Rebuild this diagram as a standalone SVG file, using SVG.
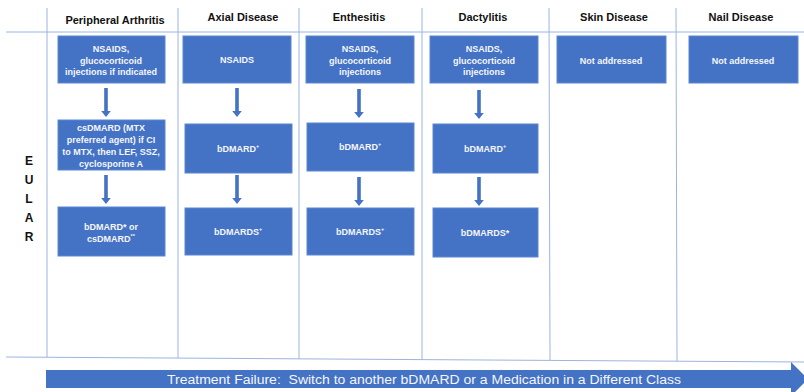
<svg xmlns="http://www.w3.org/2000/svg" width="804" height="392" viewBox="0 0 804 392">
<style>
.grid{stroke:#9bb4e0;stroke-width:1;fill:none}
.box rect{fill:#4472c4;stroke:#5b87d2;stroke-width:1}
.bt{font-family:"Liberation Sans",Arial,sans-serif;font-weight:bold;font-size:9px;fill:#f4f6fb;text-anchor:middle}
.hd{font-family:"Liberation Sans",Arial,sans-serif;font-weight:bold;font-size:11px;fill:#111111;text-anchor:middle}
.eu{font-family:"Liberation Sans",Arial,sans-serif;font-weight:bold;font-size:12px;fill:#111111;text-anchor:middle}
.sup{font-size:5.5px}
.arr{fill:#4472c4}
</style>
<defs>
<path id="dn" d="M-1.8,0 H1.8 V23 H4.8 L0,29 L-4.8,23 H-1.8 Z"/>
</defs>
<rect width="804" height="392" fill="#ffffff"/>
<g id="grid">
<line class="grid" x1="6" y1="32" x2="804" y2="32"/>
<line class="grid" x1="6" y1="357" x2="804" y2="362"/>
<line class="grid" x1="47" y1="8" x2="47" y2="357"/>
<line class="grid" x1="178" y1="8" x2="178" y2="358"/>
<line class="grid" x1="299" y1="8" x2="299" y2="359"/>
<line class="grid" x1="422" y1="8" x2="422" y2="359"/>
<line class="grid" x1="549" y1="8" x2="550" y2="360"/>
<line class="grid" x1="676" y1="8" x2="677" y2="361"/>
</g>
<g id="headers">
<text class="hd" x="115" y="24">Peripheral Arthritis</text>
<text class="hd" x="243" y="21">Axial Disease</text>
<text class="hd" x="359" y="21">Enthesitis</text>
<text class="hd" x="483" y="21">Dactylitis</text>
<text class="hd" x="614" y="21">Skin Disease</text>
<text class="hd" x="741" y="21">Nail Disease</text>
</g>
<g id="eular">
<text class="eu" x="29" y="165">E</text>
<text class="eu" x="29" y="184">U</text>
<text class="eu" x="29" y="203">L</text>
<text class="eu" x="29" y="222">A</text>
<text class="eu" x="29" y="241">R</text>
</g>
<g id="connectors">
<use href="#dn" class="arr" x="106" y="88"/>
<use href="#dn" class="arr" x="106" y="175"/>
<use href="#dn" class="arr" x="237" y="88"/>
<use href="#dn" class="arr" x="237" y="175"/>
<use href="#dn" class="arr" x="359" y="89"/>
<use href="#dn" class="arr" x="359" y="177"/>
<use href="#dn" class="arr" x="479" y="90"/>
<use href="#dn" class="arr" x="479" y="177"/>
</g>
<g id="pa1" class="box"><rect x="58" y="36" width="107" height="47"/>
<text class="bt" x="111" y="52">NSAIDS,</text><text class="bt" x="111" y="64">glucocorticoid</text><text class="bt" x="111" y="75">injections if indicated</text></g>
<g id="pa2" class="box"><rect x="58" y="120" width="107" height="50"/>
<text class="bt" x="111" y="131">csDMARD (MTX</text><text class="bt" x="111" y="143">preferred agent) if CI</text><text class="bt" x="111" y="155">to MTX, then LEF, SSZ,</text><text class="bt" x="111" y="167">cyclosporine A</text></g>
<g id="pa3" class="box"><rect x="58" y="207" width="107" height="49"/>
<text class="bt" x="111" y="230">bDMARD* or</text><text class="bt" x="111" y="242">csDMARD<tspan class="sup" dy="-4">**</tspan></text></g>
<g id="ax1" class="box"><rect x="183" y="36" width="108" height="47"/>
<text class="bt" x="237" y="63">NSAIDS</text></g>
<g id="ax2" class="box"><rect x="185" y="124" width="107" height="49"/>
<text class="bt" x="238" y="152">bDMARD<tspan class="sup" dy="-4">+</tspan></text></g>
<g id="ax3" class="box"><rect x="185" y="208" width="107" height="47"/>
<text class="bt" x="238" y="235">bDMARDS<tspan class="sup" dy="-4">+</tspan></text></g>
<g id="en1" class="box"><rect x="306" y="36" width="108" height="47"/>
<text class="bt" x="360" y="52">NSAIDS,</text><text class="bt" x="360" y="64">glucocorticoid</text><text class="bt" x="360" y="75">injections</text></g>
<g id="en2" class="box"><rect x="307" y="123" width="107" height="48"/>
<text class="bt" x="360" y="150">bDMARD<tspan class="sup" dy="-4">+</tspan></text></g>
<g id="en3" class="box"><rect x="307" y="208" width="107" height="47"/>
<text class="bt" x="360" y="235">bDMARDS<tspan class="sup" dy="-4">+</tspan></text></g>
<g id="da1" class="box"><rect x="430" y="36" width="108" height="47"/>
<text class="bt" x="484" y="52">NSAIDS,</text><text class="bt" x="484" y="64">glucocorticoid</text><text class="bt" x="484" y="75">injections</text></g>
<g id="da2" class="box"><rect x="433" y="124" width="105" height="49"/>
<text class="bt" x="485" y="152">bDMARD<tspan class="sup" dy="-4">+</tspan></text></g>
<g id="da3" class="box"><rect x="433" y="208" width="105" height="49"/>
<text class="bt" x="485" y="236">bDMARDS*</text></g>
<g id="sk1" class="box"><rect x="557" y="36" width="109" height="47"/>
<text class="bt" x="611" y="64">Not addressed</text></g>
<g id="na1" class="box"><rect x="689" y="36" width="109" height="47"/>
<text class="bt" x="743" y="64">Not addressed</text></g>
<g id="failure">
<path class="arr" d="M46,370 H791 V362 L808,379 L791,396 V388 H46 Z"/>
<text x="424" y="383.5" font-family="'Liberation Sans',Arial,sans-serif" font-size="12.5" fill="#f4f6fb" text-anchor="middle" textLength="514" lengthAdjust="spacingAndGlyphs">Treatment Failure:&#160; Switch to another bDMARD or a Medication in a Different Class</text>
</g>
</svg>
